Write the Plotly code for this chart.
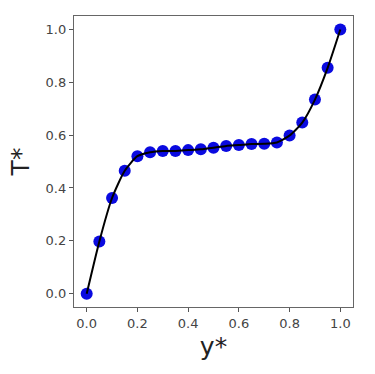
import plotly.graph_objects as go

y_star = [0.0, 0.05, 0.10, 0.15, 0.20, 0.25, 0.30, 0.35, 0.40, 0.45, 0.50,
          0.55, 0.60, 0.65, 0.70, 0.75, 0.80, 0.85, 0.90, 0.95, 1.0]
t_star = [0.0, 0.198, 0.362, 0.465, 0.520, 0.535, 0.540, 0.540, 0.543, 0.546, 0.552,
          0.559, 0.562, 0.566, 0.567, 0.572, 0.598, 0.647, 0.734, 0.854, 0.999]

fig = go.Figure()
fig.add_trace(go.Scatter(x=y_star, y=t_star, mode="markers",
                         marker=dict(color="#0a0ae0", size=12, symbol="circle",
                                     line=dict(width=0)),
                         showlegend=False))
fig.add_trace(go.Scatter(x=y_star, y=t_star, mode="lines",
                         line=dict(color="black", width=2, shape="spline", smoothing=0.6),
                         showlegend=False))

axis_common = dict(showgrid=False, zeroline=False, showline=True, mirror=True,
                   linecolor="#666666", linewidth=1.3, ticks="outside", ticklen=4,
                   tickcolor="#555555", tickfont=dict(family="DejaVu Sans", size=13, color="#444444"),
                   tickvals=[0, 0.2, 0.4, 0.6, 0.8, 1.0],
                   ticktext=["0.0", "0.2", "0.4", "0.6", "0.8", "1.0"])

fig.update_layout(
    width=375, height=374,
    margin=dict(l=74, r=22, t=16, b=67),
    plot_bgcolor="white", paper_bgcolor="white",
    xaxis=dict(range=[-0.05, 1.05], title=dict(text="y*", font=dict(family="DejaVu Sans", size=25, color="#222222"), standoff=7), **axis_common),
    yaxis=dict(range=[-0.05, 1.05], title=dict(text="T*", font=dict(family="DejaVu Sans", size=25, color="#222222"), standoff=8), **axis_common),
)

fig.write_html("out.html")
